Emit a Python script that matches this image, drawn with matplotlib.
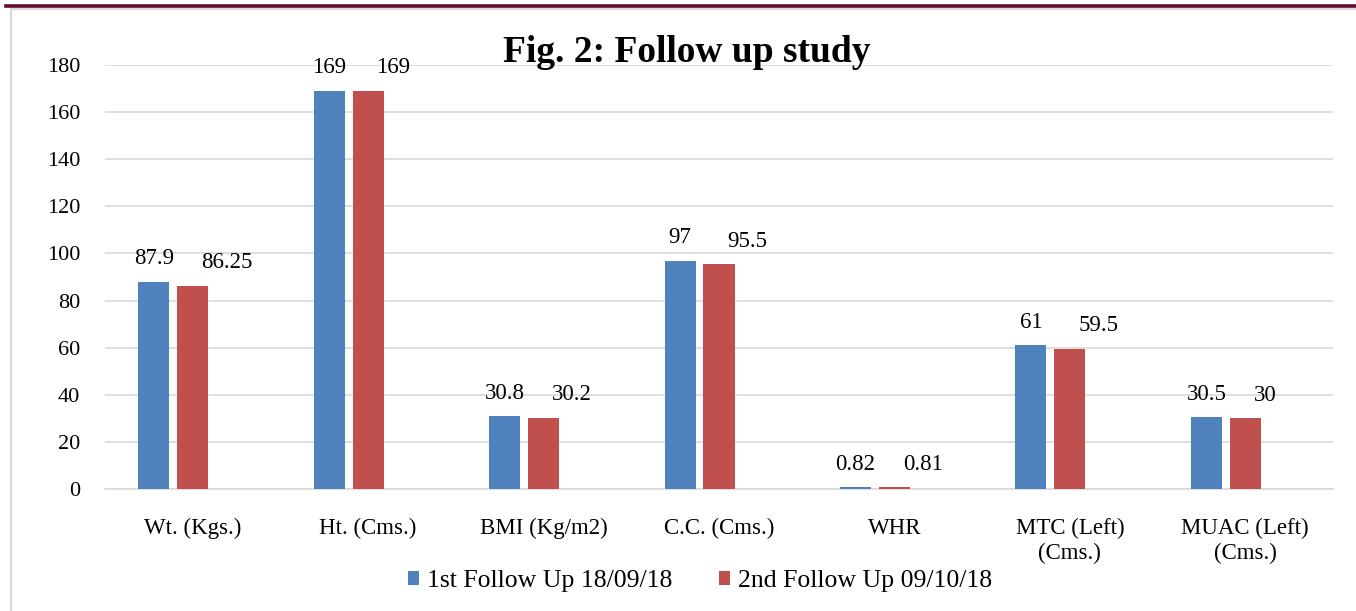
import numpy as np
import matplotlib.pyplot as plt
from matplotlib.patches import Patch, Rectangle
from matplotlib.lines import Line2D

# Datos de la figura
categorias = ['Wt. (Kgs.)', 'Ht. (Cms.)', 'BMI (Kg/m2)', 'C.C. (Cms.)', 'WHR',
              'MTC (Left)\n(Cms.)', 'MUAC (Left)\n(Cms.)']
seguimiento_1 = [87.9, 169, 30.8, 97, 0.82, 61, 30.5]
seguimiento_2 = [86.25, 169, 30.2, 95.5, 0.81, 59.5, 30]
etiquetas_1 = ['87.9', '169', '30.8', '97', '0.82', '61', '30.5']
etiquetas_2 = ['86.25', '169', '30.2', '95.5', '0.81', '59.5', '30']
nombres = ['1st Follow Up 18/09/18', '2nd Follow Up 09/10/18']
yticks = [0, 20, 40, 60, 80, 100, 120, 140, 160, 180]

azul = '#4f81bd'
rojo = '#c0504d'
gris = '#d9d9d9'

plt.rcParams['font.family'] = ['Liberation Serif', 'DejaVu Serif']

W, H = 1356, 611
fig = plt.figure(figsize=(W / 100, H / 100), dpi=100)

# Marco y linea superior de la pagina
fig.add_artist(Rectangle((11 / W, -0.1), 1.2, 1 - 9 / H + 0.1, transform=fig.transFigure,
                         facecolor='none', edgecolor=gris, linewidth=1.6))
fig.add_artist(Line2D([6 / W, 1], [1 - 6 / H, 1 - 6 / H], transform=fig.transFigure,
                      color='#650a32', linewidth=2.6))

ax = fig.add_axes([105 / W, 1 - 489 / H, (1333 - 105) / W, (489 - 65) / H])

x = np.arange(len(categorias))
ancho = 0.177
desp = 0.222
ax.bar(x - desp, seguimiento_1, width=ancho, color=azul, zorder=3)
ax.bar(x, seguimiento_2, width=ancho, color=rojo, zorder=3)

ax.set_xlim(-0.5, len(categorias) - 0.5)
ax.set_ylim(0, 180)
ax.set_yticks(yticks)
ax.set_xticks(x)
ax.set_xticklabels(categorias, fontsize=16.5, linespacing=1.25)
ax.tick_params(axis='y', labelsize=16, length=0, pad=18)
ax.tick_params(axis='x', length=0, pad=21)
ax.grid(axis='y', color=gris, linewidth=1.2, zorder=0)
for s in ['top', 'right', 'left']:
    ax.spines[s].set_visible(False)
ax.spines['bottom'].set_color(gris)
ax.spines['bottom'].set_linewidth(1.2)

# Etiquetas de valores
for i in range(len(categorias)):
    ax.annotate(etiquetas_1[i], (x[i] - desp, seguimiento_1[i]), xytext=(0, 9),
                textcoords='offset points', ha='center', va='bottom', fontsize=16.5)
    ax.annotate(etiquetas_2[i], (x[i], seguimiento_2[i]), xytext=(6, 9),
                textcoords='offset points', ha='left', va='bottom', fontsize=16.5)

fig.text(687 / W, 1 - 53 / H, 'Fig. 2: Follow up study', ha='center', va='center',
         fontsize=27, fontweight='bold')

handles = [Patch(facecolor=azul), Patch(facecolor=rojo)]
fig.legend(handles, nombres, loc='center', bbox_to_anchor=(700 / W, 1 - 581 / H),
           ncol=2, frameon=False, fontsize=18.5, handlelength=0.45, handleheight=0.45,
           handletextpad=0.3, columnspacing=1.8)

plt.savefig('out.png', dpi=100)
